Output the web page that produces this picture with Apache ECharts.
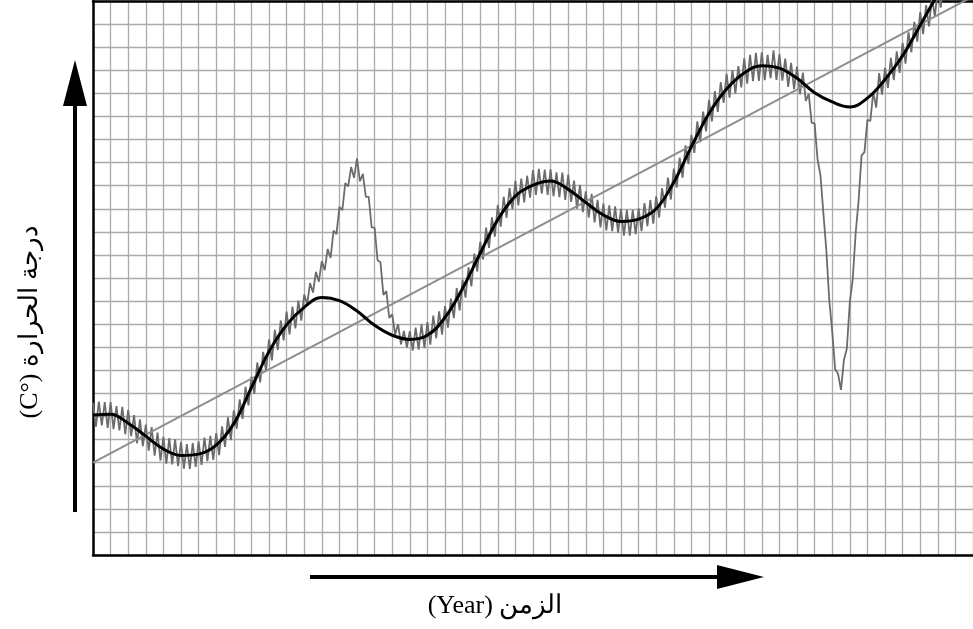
<!DOCTYPE html>
<html>
<head>
<meta charset="utf-8">
<script src="https://cdn.jsdelivr.net/npm/echarts@6/dist/echarts.min.js"></script>
<style>
html,body{margin:0;padding:0;background:#fff;}
#chart{width:973px;height:629px;}
</style>
</head>
<body>
<div id="chart"></div>
<script>
// x in grid cells (0..50), y in grid cells (0..24)
const xMin = 0, xMax = 50;
const yMin = 0, yMax = 24;

// noisy measured temperature, sampled every 1/6 of a grid cell
const noisyStep = 1 / 6;
const noisyTemp = [
  6.60, 5.56, 6.65, 5.61, 6.62, 5.51,
  6.62, 5.45, 6.45, 5.40, 6.42, 5.23,
  6.29, 5.15, 6.06, 4.84, 5.88, 4.72,
  5.65, 4.52, 5.54, 4.30, 5.30, 4.09,
  5.12, 3.96, 5.06, 3.92, 5.01, 3.85,
  4.90, 3.74, 4.80, 3.73, 4.85, 3.82,
  4.92, 3.90, 5.09, 4.07, 5.16, 4.12,
  5.28, 4.33, 5.57, 4.68, 5.96, 4.98,
  6.27, 5.47, 6.74, 5.90, 7.28, 6.48,
  7.73, 6.98, 8.34, 7.48, 8.80, 7.97,
  9.34, 8.43, 9.75, 8.88, 10.16, 9.30,
  10.54, 9.56, 10.76, 9.82, 11.02, 10.15,
  11.28, 10.87, 11.78, 11.37, 12.26, 11.84,
  12.73, 12.34, 13.26, 12.87, 14.05, 13.90,
  15.08, 14.94, 16.11, 15.97, 16.81, 16.34,
  17.18, 16.19, 16.51, 15.52, 15.51, 14.19,
  14.18, 12.77, 12.68, 11.27, 11.43, 10.27,
  10.43, 9.55, 10.00, 9.12, 9.71, 8.99,
  9.70, 8.85, 9.85, 8.90, 9.99, 8.96,
  10.09, 9.11, 10.37, 9.39, 10.56, 9.55,
  10.78, 9.85, 11.11, 10.26, 11.56, 10.60,
  11.93, 11.15, 12.46, 11.64, 13.06, 12.28,
  13.57, 12.80, 14.18, 13.30, 14.63, 13.79,
  15.17, 14.22, 15.52, 14.61, 15.89, 14.97,
  16.21, 15.15, 16.31, 15.28, 16.43, 15.48,
  16.67, 15.60, 16.73, 15.65, 16.70, 15.60,
  16.71, 15.55, 16.58, 15.50, 16.57, 15.38,
  16.48, 15.30, 16.22, 15.00, 16.03, 14.85,
  15.75, 14.62, 15.65, 14.41, 15.39, 14.19,
  15.22, 14.06, 15.15, 14.03, 15.10, 13.97,
  15.00, 13.83, 14.95, 13.83, 14.95, 13.90,
  15.02, 14.03, 15.24, 14.25, 15.37, 14.35,
  15.54, 14.62, 15.89, 15.05, 16.35, 15.40,
  16.74, 15.92, 17.21, 16.35, 17.75, 16.93,
  18.20, 17.42, 18.78, 17.89, 19.21, 18.35,
  19.72, 18.78, 20.10, 19.20, 20.49, 19.59,
  20.84, 19.81, 21.00, 20.00, 21.18, 20.26,
  21.52, 20.42, 21.67, 20.53, 21.75, 20.54,
  21.78, 20.57, 21.67, 20.66, 21.86, 20.58,
  21.70, 20.55, 21.50, 20.28, 21.32, 20.18,
  21.16, 19.96, 20.90, 19.67, 19.98, 18.72,
  18.70, 17.15, 16.45, 14.80, 13.20, 11.05,
  9.70, 8.05, 7.85, 7.15, 8.45, 8.95,
  10.95, 11.95, 13.95, 15.35, 17.30, 17.45,
  18.85, 18.80, 20.05, 19.38, 20.88, 19.94,
  21.10, 20.24, 21.54, 20.57, 21.82, 20.89,
  22.19, 21.29, 22.64, 21.78, 23.10, 22.24,
  23.52, 22.56, 23.82, 22.90, 24.16, 23.31,
  24.59, 23.71, 25.01, 24.13, 25.35, 24.43,
  25.54, 25.05, 25.90, 25.42, 26.27, 25.78, 26.60
];

// smoothed temperature, one value per grid cell (x = 0..50)
const smoothTemp = [
  6.06, 6.10, 5.71, 5.15, 4.59, 4.31, 4.37, 4.76, 5.69, 7.25,
  8.81, 9.97, 10.73, 11.16, 11.02, 10.57, 9.95, 9.52, 9.34, 9.52,
  10.29, 11.55, 13.07, 14.53, 15.55, 16.02, 16.20, 15.84, 15.27, 14.73,
  14.45, 14.55, 15.00, 16.15, 17.69, 19.13, 20.19, 20.88, 21.20, 21.09,
  20.65, 20.03, 19.63, 19.41, 19.79, 20.60, 21.63, 22.95, 24.30, 25.60,
  26.80
];

// linear trend
const trendX = [0, 50];
const trendTemp = [4.0, 24.2];

const xLabel = '(Year) الزمن';
const yLabel = '(C°) درجة الحرارة';

const noisyData = noisyTemp.map((v, i) => [i * noisyStep, v]);
const smoothData = smoothTemp.map((v, i) => [i, v]);
const trendData = trendX.map((x, i) => [x, trendTemp[i]]);

const gridColor = '#ababab';
const chart = echarts.init(document.getElementById('chart'), null, {renderer: 'canvas'});
const axisCommon = {
  type: 'value',
  interval: 1,
  axisLabel: {show: false},
  axisTick: {show: false},
  splitLine: {show: true, lineStyle: {color: gridColor, width: 1.3}}
};
const labelFont = '26px "Liberation Serif", "DejaVu Serif", serif';
chart.setOption({
  animation: false,
  backgroundColor: '#fff',
  grid: {left: 93, top: 1, width: 888, height: 554, show: false},
  xAxis: [
    Object.assign({}, axisCommon, {min: xMin, max: xMax, position: 'bottom',
      axisLine: {show: true, onZero: false, lineStyle: {color: '#000', width: 2.5}}}),
    {type: 'value', min: xMin, max: xMax, position: 'top', axisLabel: {show: false}, axisTick: {show: false},
      splitLine: {show: false}, axisLine: {show: true, onZero: false, lineStyle: {color: '#000', width: 2.5}}}
  ],
  yAxis: Object.assign({}, axisCommon, {min: yMin, max: yMax,
    axisLine: {show: true, onZero: false, lineStyle: {color: '#000', width: 2.5}}}),
  series: [
    {type: 'line', data: noisyData, showSymbol: false, symbol: 'none',
      lineStyle: {color: '#6c6c6c', width: 1.8}, z: 2, clip: true},
    {type: 'line', data: trendData, showSymbol: false, symbol: 'none',
      lineStyle: {color: '#8e8e8e', width: 2}, z: 3, clip: true},
    {type: 'line', data: smoothData, showSymbol: false, symbol: 'none', smooth: 0.4,
      lineStyle: {color: '#000', width: 3}, z: 4, clip: true}
  ],
  graphic: [
    {type: 'rect', shape: {x: 73, y: 104, width: 4, height: 408}, style: {fill: '#000'}},
    {type: 'polygon', shape: {points: [[63, 106], [87, 106], [75, 60]]}, style: {fill: '#000'}},
    {type: 'rect', shape: {x: 310, y: 575, width: 410, height: 4}, style: {fill: '#000'}},
    {type: 'polygon', shape: {points: [[717, 565], [717, 589], [764, 577]]}, style: {fill: '#000'}},
    {type: 'text', x: 495, y: 606, style: {text: xLabel, font: labelFont,
      fill: '#000', align: 'center', verticalAlign: 'middle'}},
    {type: 'text', x: 30, y: 322, rotation: Math.PI / 2, style: {text: yLabel,
      font: labelFont, fill: '#000', align: 'center', verticalAlign: 'middle'}}
  ]
});
</script>
</body>
</html>
